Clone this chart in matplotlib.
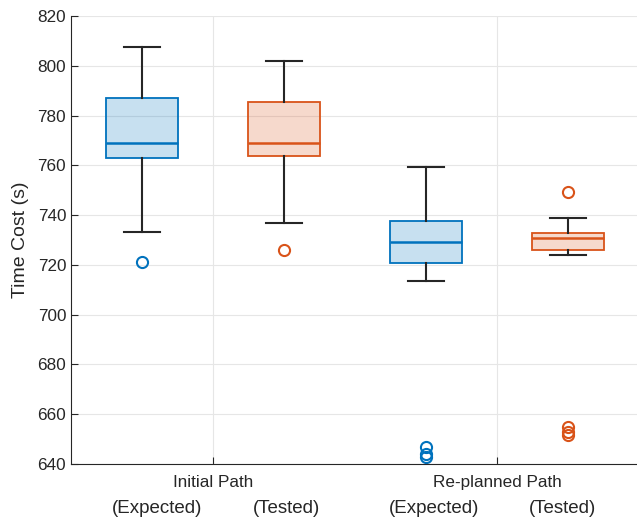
import matplotlib.pyplot as plt

plt.rcParams['font.family'] = ['Liberation Sans', 'DejaVu Sans']

groups = ['Initial Path', 'Re-planned Path']
kinds = ['(Expected)', '(Tested)']

# box statistics per group: [expected, tested]
whislo = [[733.3, 737.0], [713.7, 724.1]]
q1 = [[763.1, 763.9], [720.9, 726.0]]
med = [[769.1, 769.0], [729.3, 730.8]]
q3 = [[786.9, 785.3], [737.6, 733.0]]
whishi = [[807.7, 802.0], [759.5, 738.8]]
fliers = [[[721.0], [726.1]], [[647.0, 644.0, 643.0], [749.4, 655.0, 653.0, 651.5]]]

colors = ['#0072BD', '#D95319']
offset = 0.25

fig = plt.figure(figsize=(6.37, 5.2), dpi=100)
ax = fig.add_axes([0.1115, 0.1077, 0.8917, 0.8615])
ax.set_axisbelow(True)

for k in range(2):
    stats = []
    for g in range(2):
        stats.append(dict(whislo=whislo[g][k], q1=q1[g][k], med=med[g][k],
                          q3=q3[g][k], whishi=whishi[g][k], fliers=fliers[g][k]))
    pos = [g + 1 + (offset if k else -offset) for g in range(2)]
    c = colors[k]
    ax.bxp(stats, positions=pos, widths=0.253, patch_artist=True, showfliers=True,
           boxprops=dict(facecolor=c + '38', edgecolor=c, linewidth=1.3),
           medianprops=dict(color=c, linewidth=1.8),
           whiskerprops=dict(color='#262626', linewidth=1.5),
           capprops=dict(color='#262626', linewidth=1.5),
           capwidths=0.127,
           flierprops=dict(marker='o', markerfacecolor='none', markeredgecolor=c,
                           markersize=8, markeredgewidth=1.5))

ax.set_xlim(0.5, 2.5)
ax.set_ylim(640, 820)
ax.set_yticks(range(640, 821, 20))
ax.set_xticks([1, 2])
ax.set_xticklabels(groups)
ax.tick_params(direction='in', length=5, labelsize=12.3, colors='#262626',
               width=0.8)
ax.tick_params(axis='x', pad=8)
ax.set_ylabel('Time Cost (s)', fontsize=14, color='#262626', labelpad=6)
ax.grid(True, color='#e6e6e6', linewidth=0.8)
for s in ['top', 'right']:
    ax.spines[s].set_visible(False)
for s in ['left', 'bottom']:
    ax.spines[s].set_color('#262626')

# second row of category labels under each group
label_x = [[0.803, 1.257], [1.778, 2.232]]
for g in range(2):
    for k in range(2):
        ax.text(label_x[g][k], -0.1, kinds[k], transform=ax.get_xaxis_transform(),
                ha='center', va='center', fontsize=13.5, color='#262626')

fig.savefig('out.png', dpi=100)
